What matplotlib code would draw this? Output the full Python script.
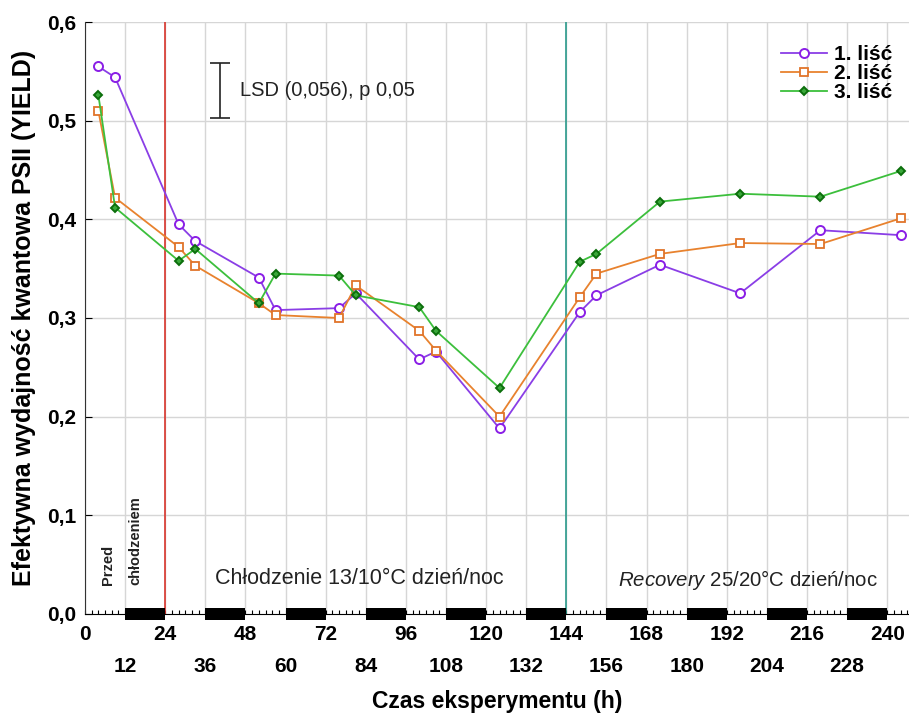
"""
Effective PSII quantum yield of three leaves during chilling and recovery.
"""
import matplotlib
matplotlib.use('Agg')
import matplotlib.pyplot as plt
from matplotlib.lines import Line2D
from matplotlib.ticker import FuncFormatter

plt.rcParams['font.family'] = ['Liberation Sans', 'DejaVu Sans']
plt.rcParams['mathtext.fontset'] = 'custom'
plt.rcParams['mathtext.rm'] = 'Liberation Sans'
plt.rcParams['mathtext.it'] = 'Liberation Sans:italic'

# Sampling times (h) and yields per leaf
hours = [4, 9, 28, 33, 52, 57, 76, 81, 100, 105, 124, 148, 153, 172, 196, 220, 244]
leaf_1 = [0.555, 0.544, 0.395, 0.378, 0.341, 0.308, 0.310, 0.325, 0.258, 0.266,
          0.188, 0.306, 0.323, 0.354, 0.325, 0.389, 0.384]
leaf_2 = [0.510, 0.422, 0.372, 0.353, 0.315, 0.303, 0.300, 0.333, 0.287, 0.267,
          0.200, 0.321, 0.345, 0.365, 0.376, 0.375, 0.401]
leaf_3 = [0.526, 0.412, 0.358, 0.370, 0.315, 0.345, 0.343, 0.323, 0.311, 0.287,
          0.229, 0.357, 0.365, 0.418, 0.426, 0.423, 0.449]
labels = ['1. liść', '2. liść', '3. liść']

# Dark periods (start hour), each 12 h long
night_starts = [12, 36, 60, 84, 108, 132, 156, 180, 204, 228]
night_len = 12

chill_start = 24
recovery_start = 144
lsd = 0.056

fig = plt.figure(figsize=(9.09, 7.13), dpi=100)
ax = fig.add_axes([0.0935, 0.139, 0.9065, 0.830])

ax.set_xlim(0, 246.5)
ax.set_ylim(0, 0.6)

# Grid
for x in range(0, 247, 12):
    ax.axvline(x, color='#d6d6d6', lw=1, zorder=0)
for y in [0.1, 0.2, 0.3, 0.4, 0.5, 0.6]:
    ax.axhline(y, color='#d6d6d6', lw=1, zorder=0)

# Phase markers
ax.axvline(chill_start, color='#d8342c', lw=1.2, zorder=1)
ax.axvline(recovery_start, color='#2b9a8c', lw=1.2, zorder=1)

styles = [
    dict(color='#8a3ee6', marker='o', ms=6.5, mfc='white', mec='#8a1ee6', mew=1.4),
    dict(color='#e8822e', marker='s', ms=6, mfc='white', mec='#e0742a', mew=1.3),
    dict(color='#3cbf3c', marker='D', ms=4.5, mfc='#3aa83a', mec='#0b6e0b', mew=1.4),
]
for vals, st in zip([leaf_1, leaf_2, leaf_3], styles):
    ax.plot(hours, vals, lw=1.3, zorder=3, **st)

# Night bars on the time axis
ax.bar(night_starts, 0.0115, width=night_len, bottom=-0.0058, align='edge',
       color='black', clip_on=False, zorder=5)

# Axes styling
for side in ['top', 'right']:
    ax.spines[side].set_visible(False)
ax.spines['left'].set_color('#333333')
ax.spines['bottom'].set_color('black')

comma = FuncFormatter(lambda v, p: f'{v:.1f}'.replace('.', ','))
ax.set_yticks([0, 0.1, 0.2, 0.3, 0.4, 0.5, 0.6])
ax.yaxis.set_major_formatter(comma)
ax.tick_params(axis='y', direction='in', length=5, pad=6, labelsize=15)
for t in ax.get_yticklabels():
    t.set_fontweight('bold')

major_x = list(range(0, 241, 24))
minor_x = list(range(12, 241, 24))
ax.set_xticks(major_x, [str(v) for v in major_x])
ax.set_xticks(minor_x, [str(v) for v in minor_x], minor=True)
ax.tick_params(axis='x', which='major', length=0, pad=8, labelsize=15)
ax.tick_params(axis='x', which='minor', length=0, pad=31, labelsize=15)
for t in ax.get_xticklabels() + ax.get_xticklabels(minor=True):
    t.set_fontweight('bold')

# Small 2 h ticks along the time axis
sec = ax.secondary_xaxis(0)
sec.set_xticks(list(range(0, 247, 2)))
sec.tick_params(direction='in', length=3, width=0.8, labelbottom=False)
sec.spines['bottom'].set_visible(False)

ax.set_xlabel('Czas eksperymentu (h)', fontsize=16.5, fontweight='bold', labelpad=10)
ax.set_ylabel('Efektywna wydajność kwantowa PSII (YIELD)', fontsize=18,
              fontweight='bold', labelpad=8)

# LSD bar
lsd_x = 40.5
lsd_mid = 0.531
ax.errorbar([lsd_x], [lsd_mid], yerr=lsd / 2, color='#222222', capsize=7,
            elinewidth=1.2, capthick=1.2, zorder=4)
ax.text(46.5, lsd_mid, 'LSD (0,056), p 0,05', fontsize=14.5, va='center',
        ha='left', color='#222222')

# Phase annotations
ax.text(6.9, 0.029, 'Przed', rotation=90, fontsize=10.5, fontweight='bold',
        ha='center', va='bottom', color='#222222')
ax.text(15.0, 0.029, 'chłodzeniem', rotation=90, fontsize=10.5, fontweight='bold',
        ha='center', va='bottom', color='#222222')
ax.text(39, 0.036, 'Chłodzenie 13/10°C dzień/noc', fontsize=15.5,
        ha='left', va='center', color='#222222')
ax.text(159.5, 0.034, r'$\it{Recovery}$ 25/20°C dzień/noc', fontsize=14.7,
        ha='left', va='center', color='#222222')

handles = [Line2D([], [], lw=1.3, **st) for st in styles]
leg = ax.legend(handles, labels, loc='upper right', frameon=False,
                bbox_to_anchor=(1.003, 0.993), handlelength=2.2,
                handletextpad=0.35, labelspacing=0.0,
                prop={'size': 15, 'weight': 'bold'})

fig.savefig('out.png', dpi=100)
